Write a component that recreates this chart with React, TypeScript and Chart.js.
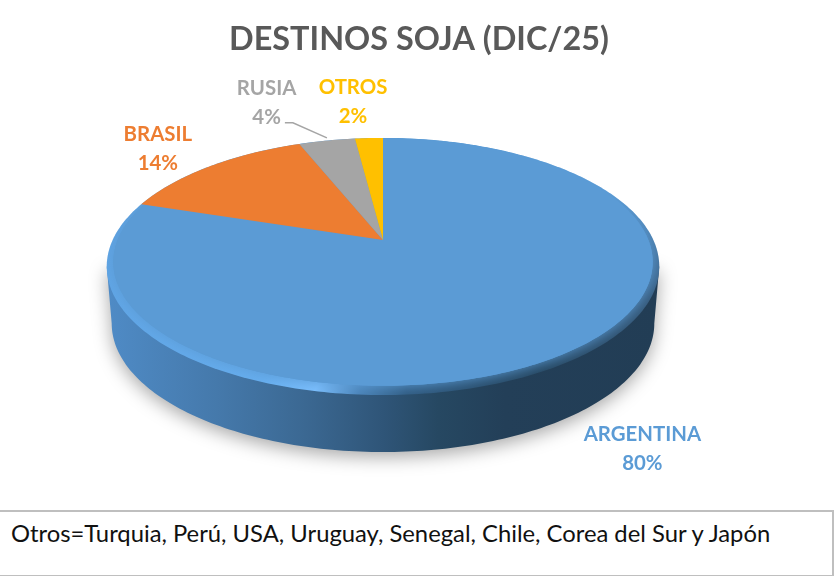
import React, { useEffect, useRef } from "react";
import { Chart, registerables } from "chart.js";

Chart.register(...registerables);

const categories = ["ARGENTINA", "BRASIL", "RUSIA", "OTROS"];
const shares = [80, 14, 4, 2];
const colors = ["#5b9bd5", "#ed7d31", "#a5a5a5", "#ffc000"];
const titleText = "DESTINOS SOJA (DIC/25)";
const noteText = "Otros=Turquia, Perú, USA, Uruguay, Senegal, Chile, Corea del Sur y Japón";

// label anchor offsets relative to the pie apex, in pie radii
const labelOffsets = [
  [1.515, 1.135],
  [-1.315, -0.615],
  [-0.68, -0.885],
  [-0.175, -0.89],
];

const project = (cx: number, cy: number, R: number, a: number, b: number, k: number, t: number) => {
  const d = 1 + k * Math.sin(t);
  return [cx + (a * R * Math.cos(t)) / d, cy + (b * R * Math.sin(t)) / d];
};

const RIM = { a: 1.579, b: 0.719, k: -0.206 };
const FACE = { a: 1.55, b: 0.7, k: -0.178 };
const PIE_SHIFT = -36;

const pie3d = {
  id: "pie3d",
  beforeDatasetDraw(chart: any) {
    const ctx = chart.ctx as CanvasRenderingContext2D;
    const arcs = chart.getDatasetMeta(0).data as any[];
    const props = arcs[0].getProps(["x", "y", "outerRadius"], true);
    const cx = props.x + PIE_SHIFT;
    const cy = props.y;
    const R = props.outerRadius;
    const depth = 0.333 * R;
    const tw = Math.asin(-RIM.k);
    const rim = (t: number) => project(cx, cy, R, RIM.a, RIM.b, RIM.k, t);

    ctx.save();

    // side wall
    ctx.beginPath();
    let p = rim(tw);
    ctx.moveTo(p[0], p[1]);
    for (let i = 0; i <= 160; i++) {
      const t = tw + ((Math.PI - 2 * tw) * i) / 160;
      const q = rim(t);
      ctx.lineTo(cx + (q[0] - cx) * 0.982, q[1] + depth);
    }
    p = rim(Math.PI - tw);
    ctx.lineTo(p[0], p[1]);
    ctx.closePath();
    const left = cx - 276 * (R / 171);
    const right = cx + 276 * (R / 171);
    const wall = ctx.createLinearGradient(left, 0, right, 0);
    wall.addColorStop(0, "#4f8bc6");
    wall.addColorStop(0.2, "#4579ab");
    wall.addColorStop(0.36, "#3b6892");
    wall.addColorStop(0.5, "#2f5578");
    wall.addColorStop(0.6, "#264862");
    wall.addColorStop(0.72, "#233f58");
    wall.addColorStop(1, "#223d55");
    ctx.shadowColor = "rgba(0,0,0,0.34)";
    ctx.shadowBlur = 18;
    ctx.shadowOffsetY = 5;
    ctx.fillStyle = wall;
    ctx.fill();
    ctx.shadowColor = "transparent";
    ctx.shadowBlur = 0;
    ctx.shadowOffsetY = 0;

    // bevel around the near edge
    const rimCenterY = cy + 0.155 * R;
    const bevel = (ctx as any).createConicGradient(-Math.PI / 2, cx, rimCenterY);
    bevel.addColorStop(0, "#5b9bd5");
    bevel.addColorStop(0.2, "#5b9bd5");
    bevel.addColorStop(0.27, "#35597a");
    bevel.addColorStop(0.34, "#254660");
    bevel.addColorStop(0.47, "#2f5a80");
    bevel.addColorStop(0.53, "#4a83b8");
    bevel.addColorStop(0.58, "#7cc0ff");
    bevel.addColorStop(0.63, "#66aeef");
    bevel.addColorStop(0.76, "#5fa4e4");
    bevel.addColorStop(0.84, "#5b9bd5");
    bevel.addColorStop(1, "#5b9bd5");
    const rimPath = new Path2D();
    for (let i = 0; i <= 360; i++) {
      const q = rim((i / 360) * 2 * Math.PI);
      if (i === 0) rimPath.moveTo(q[0], q[1]);
      else rimPath.lineTo(q[0], q[1]);
    }
    rimPath.closePath();
    ctx.fillStyle = bevel;
    ctx.fill(rimPath);

    // top face slices, from the library's arc angles
    arcs.forEach((arc, i) => {
      const { startAngle, endAngle } = arc.getProps(["startAngle", "endAngle"], true);
      const n = Math.max(4, Math.ceil(((endAngle - startAngle) * 180) / Math.PI));
      const m = i === 0 ? FACE : RIM;
      ctx.beginPath();
      ctx.moveTo(cx, cy);
      for (let j = 0; j <= n; j++) {
        const t = startAngle + ((endAngle - startAngle) * j) / n;
        const q = project(cx, cy, R, m.a, m.b, m.k, t);
        ctx.lineTo(q[0], q[1]);
      }
      ctx.closePath();
      const slice = new Path2D();
      slice.addPath(new Path2D());
      ctx.fillStyle = arc.options.backgroundColor;
      if (i === 0) {
        ctx.save();
        ctx.clip(rimPath);
        ctx.shadowColor = colors[0];
        ctx.shadowBlur = 14;
        ctx.fill();
        ctx.restore();
      }
      ctx.fill();
    });

    // leader line for RUSIA
    const u = R / 171;
    ctx.beginPath();
    ctx.moveTo(cx - 98 * u, cy - 117 * u);
    ctx.lineTo(cx - 90 * u, cy - 117 * u);
    ctx.lineTo(cx - 56 * u, cy - 102 * u);
    ctx.strokeStyle = "#a5a5a5";
    ctx.lineWidth = 1.5;
    ctx.stroke();

    // data labels
    ctx.textAlign = "center";
    ctx.textBaseline = "middle";
    ctx.font = "bold 20.4px Lato";
    chart.data.labels.forEach((label: string, i: number) => {
      const lx = cx + labelOffsets[i][0] * R;
      const ly = cy + labelOffsets[i][1] * R;
      ctx.fillStyle = colors[i];
      ctx.fillText(label, lx, ly);
      ctx.fillText(`${chart.data.datasets[0].data[i]}%`, lx, ly + 29);
    });

    ctx.restore();
    return false;
  },
};

export default function App() {
  const ref = useRef<HTMLCanvasElement>(null);
  useEffect(() => {
    if (!ref.current) return;
    const chart = new Chart(ref.current, {
      type: "pie",
      data: {
        labels: categories,
        datasets: [{ data: shares, backgroundColor: colors, borderWidth: 0 }],
      },
      options: {
        animation: false,
        responsive: false,
        maintainAspectRatio: false,
        layout: { padding: { left: 4, top: 0, right: 0, bottom: 98.8 } },
        plugins: {
          legend: { display: false },
          tooltip: { enabled: false },
          title: {
            display: true,
            text: titleText,
            color: "#595959",
            font: { family: "Lato", size: 32.4, weight: "bold" },
            padding: { top: 20, bottom: 9.9 },
          },
        },
      },
      plugins: [pie3d],
    } as any);
    return () => chart.destroy();
  }, []);

  return (
    <div style={{ position: "absolute", left: 0, top: 0, width: 834, height: 576, background: "#fff", overflow: "hidden" }}>
      <canvas ref={ref} width={834} height={510} style={{ display: "block", position: "absolute", left: 0, top: 0 }} />
      <div
        style={{
          position: "absolute",
          left: -2,
          top: 510,
          width: 832,
          height: 63,
          border: "2px solid #bfbfbf",
          boxSizing: "content-box",
          fontFamily: "Lato",
          fontSize: 23.8,
          lineHeight: "28px",
          color: "#111",
        }}
      >
        <div style={{ position: "absolute", left: 11, top: 7, whiteSpace: "nowrap" }}>{noteText}</div>
      </div>
    </div>
  );
}
